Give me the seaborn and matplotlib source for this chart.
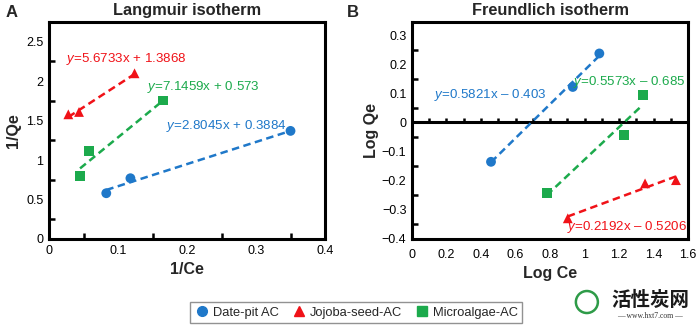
import numpy as np
import pandas as pd
import seaborn as sns
import matplotlib.pyplot as plt
from matplotlib.lines import Line2D
from matplotlib.patches import Ellipse
from matplotlib.ticker import MultipleLocator

sns.set_theme(style="white")
plt.rcParams["font.family"] = ["Liberation Sans", "DejaVu Sans"]
plt.rcParams["mathtext.fontset"] = "custom"
plt.rcParams["mathtext.it"] = "Liberation Sans:italic"
plt.rcParams["mathtext.rm"] = "Liberation Sans"

# Adsorbents
series = ["Date-pit AC", "Jojoba-seed-AC", "Microalgae-AC"]
colors = {"Date-pit AC": "#1f78c9", "Jojoba-seed-AC": "#f01218", "Microalgae-AC": "#1caa4c"}
markers = {"Date-pit AC": "o", "Jojoba-seed-AC": "^", "Microalgae-AC": "s"}

# Langmuir linearisation: 1/Ce vs 1/Qe
lang_date_x = [0.083, 0.118, 0.350]
lang_date_y = [0.58, 0.77, 1.37]
lang_jojo_x = [0.028, 0.0435, 0.124]
lang_jojo_y = [1.58, 1.61, 2.10]
lang_alga_x = [0.045, 0.0585, 0.165]
lang_alga_y = [0.80, 1.12, 1.755]
lang_slope = [2.8045, 5.6733, 7.1459]
lang_icpt = [0.3884, 1.3868, 0.573]
lang_eqs = ["$y$=2.8045x + 0.3884", "$y$=5.6733x + 1.3868", "$y$=7.1459x + 0.573"]

# Freundlich linearisation: Log Ce vs Log Qe
freu_date_x = [0.458, 0.932, 1.086]
freu_date_y = [-0.135, 0.122, 0.237]
freu_jojo_x = [0.903, 1.351, 1.530]
freu_jojo_y = [-0.329, -0.209, -0.198]
freu_alga_x = [0.781, 1.227, 1.337]
freu_alga_y = [-0.241, -0.043, 0.093]
freu_slope = [0.5821, 0.2192, 0.5573]
freu_icpt = [-0.403, -0.5206, -0.685]
freu_eqs = ["$y$=0.5821x \u2013 0.403", "$y$=0.2192x \u2013 0.5206", "$y$=0.5573x \u2013 0.685"]

lang_xticks = [0, 0.1, 0.2, 0.3, 0.4]
lang_xticklabels = ["0", "0.1", "0.2", "0.3", "0.4"]
lang_yticks = [0, 0.5, 1, 1.5, 2, 2.5]
lang_yticklabels = ["0", "0.5", "1", "1.5", "2", "2.5"]
freu_xticks = [0, 0.2, 0.4, 0.6, 0.8, 1.0, 1.2, 1.4, 1.6]
freu_xticklabels = ["0", "0.2", "0.4", "0.6", "0.8", "1", "1.2", "1.4", "1.6"]
freu_yticks = [-0.4, -0.3, -0.2, -0.1, 0, 0.1, 0.2, 0.3]
freu_yticklabels = ["\u22120.4", "\u22120.3", "\u22120.2", "\u22120.1", "0", "0.1", "0.2", "0.3"]


def frame(xs, ys):
    rows = []
    for name, x, y in zip(series, xs, ys):
        for a, b in zip(x, y):
            rows.append({"x": a, "y": b, "AC": name})
    return pd.DataFrame(rows)


def fit_frame(xs, slopes, icpts):
    rows = []
    for name, x, m, c in zip(series, xs, slopes, icpts):
        for a in (min(x), max(x)):
            rows.append({"x": a, "y": m * a + c, "AC": name})
    return pd.DataFrame(rows)


fig = plt.figure(figsize=(6.97, 3.29), dpi=100)
axA = fig.add_axes([0.0703, 0.2736, 0.396, 0.6595])
axB = fig.add_axes([0.5911, 0.2736, 0.396, 0.6595])

lang_x = [lang_date_x, lang_jojo_x, lang_alga_x]
lang_y = [lang_date_y, lang_jojo_y, lang_alga_y]
freu_x = [freu_date_x, freu_jojo_x, freu_alga_x]
freu_y = [freu_date_y, freu_jojo_y, freu_alga_y]

for ax, xs, ys, sl, ic in [(axA, lang_x, lang_y, lang_slope, lang_icpt),
                           (axB, freu_x, freu_y, freu_slope, freu_icpt)]:
    fits = fit_frame(xs, sl, ic)
    for name in series:
        sub = fits[fits["AC"] == name]
        sns.lineplot(data=sub, x="x", y="y", ax=ax, color=colors[name],
                     lw=1.8, legend=False, zorder=2)
    for ln in ax.lines:
        ln.set_linestyle((0, (3, 1.8)))
    pts = frame(xs, ys)
    sns.scatterplot(data=pts, x="x", y="y", hue="AC", style="AC",
                    palette=colors, markers=markers, s=50, linewidth=0,
                    ax=ax, legend=False, zorder=3)

# Panel A styling
axA.set_xlim(0, 0.4)
axA.set_ylim(0, 2.75)
axA.set_xticks(lang_xticks)
axA.set_xticklabels(lang_xticklabels)
axA.set_yticks(lang_yticks)
axA.set_yticklabels(lang_yticklabels)
axA.xaxis.set_minor_locator(MultipleLocator(0.05))
axA.yaxis.set_minor_locator(MultipleLocator(0.25))
axA.set_xlabel("1/Ce", fontsize=11.5, fontweight="bold", labelpad=4)
axA.set_ylabel("1/Qe", fontsize=11.5, fontweight="bold", labelpad=4)
axA.set_title("Langmuir isotherm", fontsize=11.8, fontweight="bold", pad=5)

# Panel B styling
axB.set_xlim(0, 1.6)
axB.set_ylim(-0.4, 0.345)
axB.set_xticks(freu_xticks)
axB.set_xticklabels(freu_xticklabels)
axB.set_yticks(freu_yticks)
axB.set_yticklabels(freu_yticklabels)
axB.yaxis.set_minor_locator(MultipleLocator(0.05))
axB.set_xlabel("Log Ce", fontsize=11.5, fontweight="bold", labelpad=4)
axB.set_ylabel("Log Qe", fontsize=11.5, fontweight="bold", labelpad=2)
axB.set_title("Freundlich isotherm", fontsize=11.8, fontweight="bold", pad=5)
axB.axhline(0, color="black", lw=2.2, zorder=1)
axB.vlines(np.arange(0.1, 1.6, 0.1), 0, 0.014, color="black", lw=1.8, zorder=1)

for ax in (axA, axB):
    for sp in ax.spines.values():
        sp.set_visible(True)
        sp.set_color("black")
        sp.set_linewidth(2.2)
    ax.tick_params(axis="both", which="both", direction="in", length=4, width=1.8,
                   labelsize=9, colors="black", pad=4,
                   top=False, right=False)
    ax.tick_params(axis="y", which="minor", left=True)
    ax.tick_params(axis="x", which="minor", bottom=True)
axB.tick_params(axis="x", which="both", length=0, pad=7)

# Regression equations
for ax, eqs, pos in [
    (axA, lang_eqs, [(0.170, 1.43), (0.0246, 2.28), (0.142, 1.93)]),
    (axB, freu_eqs, [(0.128, 0.095), (0.90, -0.36), (0.935, 0.14)]),
]:
    for name, eq, (tx, ty) in zip(series, eqs, pos):
        ax.text(tx, ty, eq, color=colors[name], fontsize=9.6, ha="left", va="center")

# Panel letters
fig.text(0.008, 0.985, "A", fontsize=12, fontweight="bold", va="top")
fig.text(0.497, 0.985, "B", fontsize=12, fontweight="bold", va="top")

# Shared legend
handles = [Line2D([], [], ls="none", marker=markers[n], color=colors[n],
                  markersize=7, label=n) for n in series]
leg = fig.legend(handles=handles, loc="center", bbox_to_anchor=(0.511, 0.05),
                 ncol=3, fontsize=9.3, frameon=True, fancybox=False,
                 handletextpad=0.2, columnspacing=1.0, borderpad=0.35,
                 handlelength=1.2)
leg.get_frame().set_edgecolor("#777777")
leg.get_frame().set_linewidth(1.0)

# Site mark
fig.text(0.933, 0.088, "活性炭网", fontsize=14, fontweight="bold", color="#1a1a1a",
         ha="center", va="center", family=["Noto Sans CJK SC", "DejaVu Sans"])
fig.text(0.933, 0.038, "\u2014 www.hxt7.com \u2014", fontsize=5.5, color="#333333",
         ha="center", va="center", family=["Liberation Serif", "DejaVu Serif"])
fig.patches.append(Ellipse((0.842, 0.082), 22 / 697, 22 / 329, transform=fig.transFigure,
                           fill=False, ec="#2e9b48", lw=1.8))

fig.savefig("out.png", dpi=100)
